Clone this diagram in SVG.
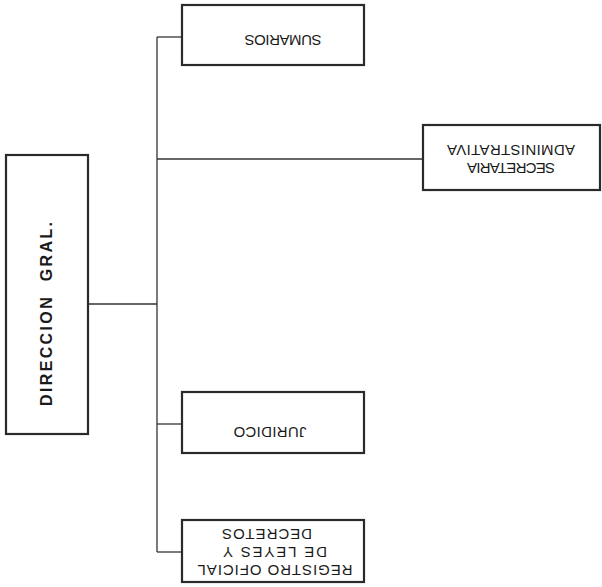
<svg xmlns="http://www.w3.org/2000/svg" width="602" height="587" viewBox="0 0 602 587">
<style>
.box{fill:#fff;stroke:#2a2a2a;stroke-width:2.2}
.con{fill:none;stroke:#333;stroke-width:1.3}
.t{font-family:"Liberation Sans",Arial,sans-serif;font-size:15px;fill:#1a1a1a;text-anchor:middle}
.big{font-family:"Liberation Sans",Arial,sans-serif;font-size:16px;font-weight:bold;fill:#1a1a1a;text-anchor:middle}
</style>
<rect width="602" height="587" fill="#fff"/>
<g id="connectors">
<path class="con" d="M157,37 V552"/>
<path class="con" d="M157,37 H182"/>
<path class="con" d="M157,159 H423"/>
<path class="con" d="M88,304 H157"/>
<path class="con" d="M157,424 H182"/>
<path class="con" d="M157,552 H182"/>
</g>
<g id="direccion">
<rect class="box" x="6" y="155" width="82" height="279"/>
<text class="big" transform="rotate(-90 46 314)" x="46" y="320" xml:space="preserve" textLength="184" lengthAdjust="spacing">DIRECCION  GRAL.</text>
</g>
<g id="sumarios">
<rect class="box" x="182" y="5" width="182" height="60"/>
<text class="t" transform="rotate(180 283 40)" x="283" y="45" textLength="77" lengthAdjust="spacing">SUMARIOS</text>
</g>
<g id="secretaria">
<rect class="box" x="423" y="125" width="177" height="65"/>
<text class="t" transform="rotate(180 511 159)" x="511" y="155" textLength="88" lengthAdjust="spacing">SECRETARIA</text>
<text class="t" transform="rotate(180 511 159)" x="511" y="173" textLength="128" lengthAdjust="spacing">ADMINISTRATIVA</text>
</g>
<g id="juridico">
<rect class="box" x="182" y="392" width="182" height="61"/>
<text class="t" transform="rotate(180 270 432)" x="270" y="437" textLength="73" lengthAdjust="spacing">JURIDICO</text>
</g>
<g id="registro">
<rect class="box" x="182" y="520" width="182" height="62"/>
<text class="t" transform="rotate(180 275 551)" x="275" y="537" textLength="155" lengthAdjust="spacing">REGISTRO OFICIAL</text>
<text class="t" transform="rotate(180 275 551)" x="275" y="555" textLength="104" lengthAdjust="spacing">DE LEYES Y</text>
<text class="t" transform="rotate(180 275 551)" x="283" y="573" textLength="90" lengthAdjust="spacing">DECRETOS</text>
</g>
</svg>
